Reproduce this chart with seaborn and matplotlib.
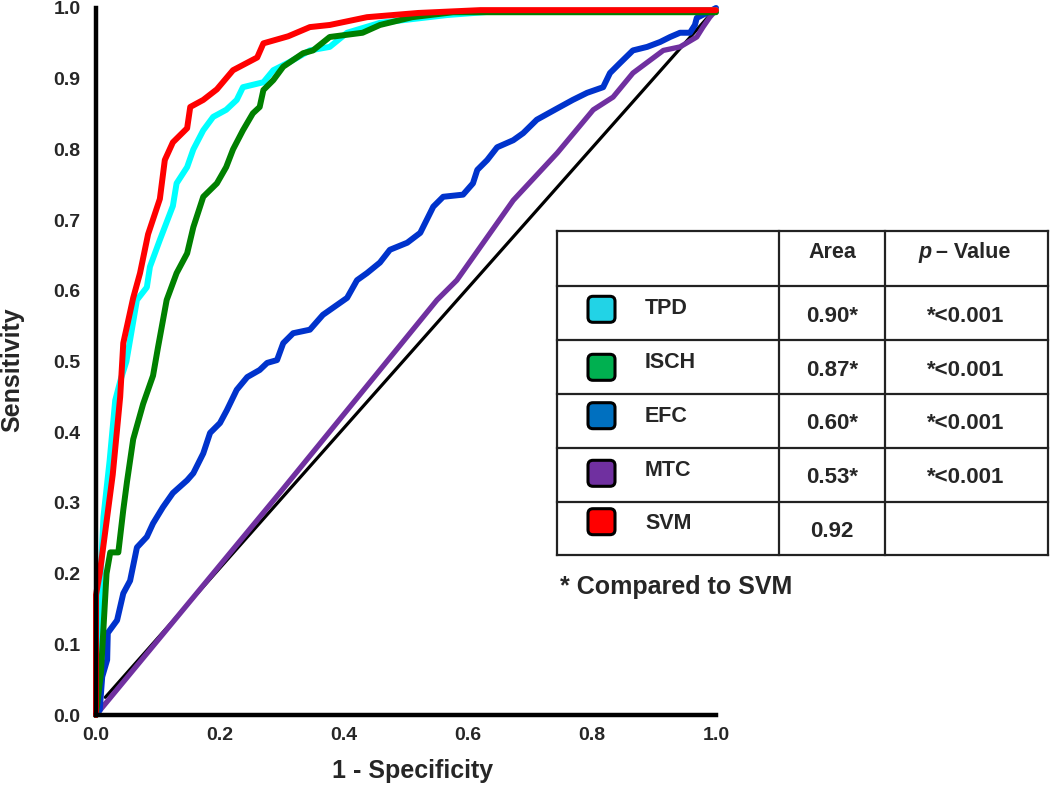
import matplotlib
matplotlib.use("Agg")
import matplotlib.pyplot as plt
from matplotlib.patches import FancyBboxPatch
import seaborn as sns

# ---------------- data ----------------
svm_fpr = [0, 0.0, 0.006, 0.015, 0.027, 0.039, 0.044, 0.06, 0.071, 0.084, 0.103, 0.111,
           0.124, 0.147, 0.152, 0.173, 0.195, 0.221, 0.26, 0.27, 0.31, 0.345, 0.377, 0.437,
           0.52, 0.62, 1.0]
svm_tpr = [0, 0.17, 0.20, 0.26, 0.34, 0.45, 0.526, 0.59, 0.625, 0.68, 0.73, 0.785,
           0.81, 0.83, 0.86, 0.87, 0.885, 0.912, 0.93, 0.95, 0.96, 0.973, 0.976, 0.987,
           0.993, 0.997, 0.997]

tpd_fpr = [0, 0.005, 0.012, 0.022, 0.031, 0.04, 0.049, 0.066, 0.082, 0.087, 0.103, 0.124,
           0.13, 0.147, 0.157, 0.173, 0.189, 0.21, 0.227, 0.237, 0.27, 0.286, 0.313, 0.345,
           0.377, 0.405, 0.458, 0.566, 0.64, 1.0]
tpd_tpr = [0, 0.15, 0.28, 0.36, 0.445, 0.475, 0.50, 0.587, 0.605, 0.634, 0.672, 0.72,
           0.752, 0.775, 0.80, 0.827, 0.846, 0.856, 0.87, 0.888, 0.895, 0.912, 0.924, 0.94,
           0.945, 0.965, 0.979, 0.99, 0.995, 0.997]

isch_fpr = [0, 0.008, 0.017, 0.023, 0.036, 0.044, 0.05, 0.06, 0.076, 0.092, 0.1, 0.114,
            0.13, 0.147, 0.157, 0.173, 0.195, 0.21, 0.221, 0.237, 0.253, 0.264, 0.27, 0.286,
            0.302, 0.334, 0.35, 0.377, 0.43, 0.458, 0.51, 0.576, 1.0]
isch_tpr = [0, 0.06, 0.2, 0.23, 0.23, 0.29, 0.33, 0.39, 0.44, 0.48, 0.52, 0.587,
            0.625, 0.653, 0.69, 0.733, 0.752, 0.775, 0.80, 0.827, 0.851, 0.86, 0.884, 0.898,
            0.917, 0.936, 0.94, 0.959, 0.965, 0.976, 0.987, 0.994, 0.994]

efc_fpr = [0, 0.006, 0.01, 0.018, 0.019, 0.034, 0.044, 0.055, 0.066, 0.082, 0.092, 0.108,
           0.124, 0.147, 0.157, 0.173, 0.184, 0.2, 0.211, 0.227, 0.244, 0.264, 0.276, 0.292,
           0.302, 0.318, 0.345, 0.366, 0.405, 0.421, 0.437, 0.458, 0.474, 0.502, 0.523, 0.544,
           0.56, 0.592, 0.608, 0.615, 0.631, 0.647, 0.673, 0.689, 0.711, 0.744, 0.769, 0.792,
           0.818, 0.829, 0.845, 0.866, 0.889, 0.91, 0.926, 0.942, 0.958, 0.966, 0.969, 0.985,
           1.0]
efc_tpr = [0, 0.007, 0.054, 0.078, 0.116, 0.134, 0.172, 0.19, 0.237, 0.252, 0.271, 0.294,
           0.314, 0.332, 0.342, 0.37, 0.399, 0.413, 0.431, 0.46, 0.478, 0.488, 0.498, 0.502,
           0.526, 0.54, 0.545, 0.566, 0.59, 0.615, 0.625, 0.64, 0.658, 0.668, 0.682, 0.719,
           0.733, 0.736, 0.752, 0.771, 0.785, 0.803, 0.813, 0.823, 0.842, 0.858, 0.87, 0.88,
           0.888, 0.908, 0.922, 0.94, 0.945, 0.952, 0.959, 0.965, 0.965, 0.976, 0.986, 0.993,
           1.0]

mtc_fpr = [0, 0.3, 0.55, 0.582, 0.673, 0.744, 0.802, 0.834, 0.866, 0.915, 0.942, 0.969,
           0.979, 0.99, 1.0]
mtc_tpr = [0, 0.318, 0.587, 0.615, 0.728, 0.795, 0.856, 0.874, 0.908, 0.94, 0.945, 0.959,
           0.973, 0.987, 0.997]

chance_fpr = [0.015, 1.0]
chance_tpr = [0.025, 1.0]

tick_vals_x = [0.0, 0.2, 0.4, 0.6, 0.8, 1.0]
tick_vals_y = [0.0, 0.1, 0.2, 0.3, 0.4, 0.5, 0.6, 0.7, 0.8, 0.9, 1.0]

models = ["TPD", "ISCH", "EFC", "MTC", "SVM"]
areas = ["0.90*", "0.87*", "0.60*", "0.53*", "0.92"]
pvalues = ["*<0.001", "*<0.001", "*<0.001", "*<0.001", ""]
box_colors = ["#22D3E6", "#00B050", "#0070C0", "#7030A0", "#FF0000"]
footnote = "* Compared to SVM"

# ---------------- style ----------------
sns.set_theme(style="white")
plt.rcParams["font.family"] = ["Liberation Sans", "DejaVu Sans"]
plt.rcParams["font.weight"] = "bold"

fig = plt.figure(figsize=(10.5, 7.88), dpi=100)
W, H = 1050, 788
ax = fig.add_axes([96 / W, 1 - 715 / H, 620 / W, 707 / H])

series = [
    (chance_fpr, chance_tpr, "#000000", 2.3),
    (mtc_fpr, mtc_tpr, "#7030A0", 3.8),
    (efc_fpr, efc_tpr, "#0033CC", 4.3),
    (tpd_fpr, tpd_tpr, "#00FFFF", 4.3),
    (isch_fpr, isch_tpr, "#008000", 4.3),
    (svm_fpr, svm_tpr, "#FF0000", 4.3),
]
for fx, ty, col, lw in series:
    sns.lineplot(x=fx, y=ty, sort=False, estimator=None, color=col, linewidth=lw,
                 ax=ax, clip_on=False)

ax.set_xlim(0, 1.0)
ax.set_ylim(0, 1.0)
ax.set_xticks(tick_vals_x)
ax.set_xticklabels([f"{v:.1f}" for v in tick_vals_x])
ax.set_yticks(tick_vals_y)
ax.set_yticklabels([f"{v:.1f}" for v in tick_vals_y])
sns.despine(ax=ax)
for s in ["left", "bottom"]:
    ax.spines[s].set_linewidth(3.2)
    ax.spines[s].set_color("black")
ax.tick_params(axis="both", direction="out", length=4, width=3, color="black",
               labelsize=14, pad=5)
for lab in ax.get_xticklabels() + ax.get_yticklabels():
    lab.set_fontweight("bold")
ax.tick_params(axis="y", pad=7)
ax.set_xlabel("1 - Specificity", fontsize=18, fontweight="bold")
ax.set_ylabel("Sensitivity", fontsize=18, fontweight="bold")
ax.xaxis.set_label_coords(0.511, -0.062)
ax.yaxis.set_label_coords(-0.115, 0.488)

# ---------------- table overlay (pixel space) ----------------
ov = fig.add_axes([0, 0, 1, 1], zorder=5)
ov.set_xlim(0, W)
ov.set_ylim(H, 0)
ov.axis("off")
ov.patch.set_alpha(0)

row_y = [231, 286, 340, 394, 448, 502, 555]
col_x = [557, 779, 885, 1048]
tl = 1.6
for y in row_y:
    ov.plot([col_x[0], col_x[-1]], [y, y], color="#222222", lw=tl, solid_capstyle="projecting")
for x in col_x:
    ov.plot([x, x], [row_y[0], row_y[-1]], color="#222222", lw=tl, solid_capstyle="projecting")

fs = 15.5
ov.text(832, 258.3, "Area", ha="center", va="baseline", fontsize=fs, fontweight="bold")
ov.text(918, 258.3, "p", ha="left", va="baseline", fontsize=fs, fontweight="bold",
        fontstyle="italic")
ov.text(936, 258.3, "\u2013 Value", ha="left", va="baseline", fontsize=fs, fontweight="bold")

label_base = [314.3, 367.7, 422.3, 475.7, 529.0]
value_base = [321.7, 375.7, 429.3, 483.3, 536.7]
box_top = [294.3, 352.3, 400.7, 458.3, 506.7]
for i, m in enumerate(models):
    ov.add_patch(FancyBboxPatch((588, box_top[i] + 2), 27, 26,
                                boxstyle="round,pad=0,rounding_size=5",
                                facecolor=box_colors[i], edgecolor="black", lw=2.2))
    ov.text(645, label_base[i], m, ha="left", va="baseline", fontsize=fs, fontweight="bold")
    ov.text(832, value_base[i], areas[i], ha="center", va="baseline", fontsize=16,
            fontweight="bold")
    if pvalues[i]:
        ov.text(966, value_base[i], pvalues[i], ha="center", va="baseline", fontsize=16,
                fontweight="bold")

ov.text(560, 594.3, footnote, ha="left", va="baseline", fontsize=18, fontweight="bold")

fig.savefig("out.png", dpi=100)
